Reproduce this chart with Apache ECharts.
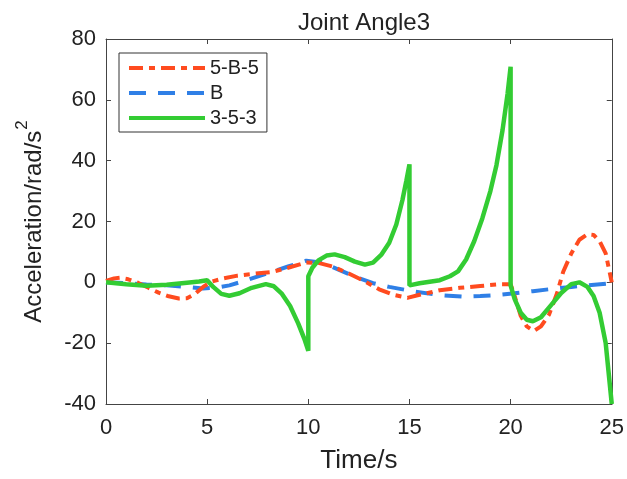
<!DOCTYPE html>
<html>
<head>
<meta charset="UTF-8">
<title>Joint Angle3</title>
<script src="https://cdn.jsdelivr.net/npm/echarts@6/dist/echarts.min.js"></script>
<style>
  html, body { margin: 0; padding: 0; background: #fff; }
  #chart { width: 627px; height: 479px; }
</style>
</head>
<body>
<div id="chart"></div>
<script type="text/javascript">
// [time, acceleration]
var curve585 = [[0,0.5],[0.4,1.3],[0.7,1.5],[1.1,1.0],[1.6,-0.2],[2.1,-1.8],[2.6,-3.4],[3.1,-4.6],[3.6,-5.3],[4.0,-5.2],[4.4,-3.8],[4.8,-1.5],[5.2,0.2],[5.8,1.3],[6.5,2.2],[7.3,2.8],[8.2,3.4],[9,4.8],[9.9,6.5],[10.5,6.4],[11.2,5.2],[12.0,2.9],[12.8,0.3],[13.5,-2.3],[14.2,-4.1],[14.9,-5.1],[15.5,-4.1],[16.5,-2.6],[17.5,-1.8],[18.5,-1.2],[19.5,-0.6],[20,-0.6],[20.2,-4.5],[20.5,-11],[20.8,-14.5],[21.15,-16],[21.5,-14.5],[21.9,-10.6],[22.3,-3.5],[22.6,3.5],[23.0,9.5],[23.4,14],[23.8,15.8],[24.1,15.6],[24.4,13.5],[24.7,9.5],[25,0]];
var curveB = [[0,0],[1,-0.3],[2,-0.7],[3,-1.0],[4,-1.5],[4.8,-2.0],[5.5,-1.7],[6.1,-1.0],[7,0.8],[7.9,2.8],[9,5.2],[9.9,7.1],[10.6,6.5],[11.2,5.0],[12.3,1.9],[13.2,-0.3],[14,-1.5],[15.3,-3.1],[16.5,-4.2],[17.6,-4.7],[18.5,-4.5],[19.3,-4.2],[20.2,-3.6],[21.1,-2.9],[22,-2.2],[23,-1.5],[24,-0.9],[25,-0.3]];
var curve353 = [[0,0],[1,-0.6],[2,-1.1],[3,-0.8],[4,-0.1],[4.6,0.3],[5,0.7],[5.3,-1.5],[5.7,-3.8],[6.1,-4.4],[6.6,-3.6],[7.2,-1.8],[7.9,-0.6],[8.3,-1.3],[8.7,-3.8],[9.1,-7.8],[9.5,-13.5],[9.8,-18.5],[10,-22.5],[10,2],[10.2,4.8],[10.5,7.2],[10.9,8.8],[11.3,9.2],[11.8,8.3],[12.3,6.8],[12.8,5.8],[13.2,6.5],[13.6,9],[14,13],[14.35,19],[14.65,27],[14.85,33.5],[15,38.8],[15,-1],[15.5,-0.3],[16,0.2],[16.5,0.7],[17,2],[17.4,3.6],[17.8,7.5],[18.2,13.5],[18.6,21],[19,30],[19.3,38.5],[19.6,50],[19.85,62],[20,70.9],[20,-1],[20.2,-5.5],[20.5,-10],[20.8,-12.3],[21.1,-12.8],[21.5,-11.5],[22,-7.5],[22.5,-3.5],[23,-0.6],[23.4,0],[23.8,-1.5],[24.1,-4.5],[24.4,-10],[24.7,-20],[25,-40]];

var seriesNames = ['5-B-5', 'B', '3-5-3'];
var xTicks = [0, 25, 5];   // min, max, step
var yTicks = [-40, 80, 20];

var FONT = 'Liberation Sans, Arial, sans-serif';
var AX = '#444';

function frameAxis(extra) {
  var a = {
    axisLine: { show: true, onZero: false, lineStyle: { color: AX, width: 1 } },
    axisTick: { show: true, inside: true, length: 5, lineStyle: { color: AX } },
    splitLine: { show: false }
  };
  for (var k in extra) a[k] = extra[k];
  return a;
}

var myChart = echarts.init(document.getElementById('chart'));
var option = {
  animation: false,
  backgroundColor: '#fff',
  textStyle: { fontFamily: FONT },
  title: {
    text: 'Joint Angle3',
    left: 359,
    top: 6,
    textAlign: 'center',
    textStyle: { fontFamily: FONT, fontSize: 24, fontWeight: 'normal', color: '#222' }
  },
  grid: { left: 106, right: 14, top: 39, bottom: 68, containLabel: false },
  legend: {
    data: seriesNames,
    orient: 'vertical',
    left: 119,
    top: 53,
    padding: [5, 8, 4, 8],
    itemGap: 5,
    itemWidth: 76,
    itemHeight: 14,
    backgroundColor: '#fff',
    borderColor: '#333',
    borderWidth: 1,
    borderRadius: 0,
    lineStyle: { width: 4 },
    itemStyle: { color: 'rgba(0,0,0,0)', borderColor: 'rgba(0,0,0,0)', opacity: 0 },
    textStyle: { fontFamily: FONT, fontSize: 20, color: '#222' }
  },
  xAxis: [
    frameAxis({
      type: 'value', min: xTicks[0], max: xTicks[1], interval: xTicks[2],
      name: 'Time/s', nameLocation: 'middle', nameGap: 44,
      nameTextStyle: { fontFamily: FONT, fontSize: 26, color: '#222' },
      axisLabel: { fontFamily: FONT, fontSize: 22, color: '#222', margin: 13 }
    }),
    frameAxis({
      type: 'value', position: 'top', min: xTicks[0], max: xTicks[1], interval: xTicks[2],
      axisLabel: { show: false }
    })
  ],
  yAxis: [
    frameAxis({
      type: 'value', min: yTicks[0], max: yTicks[1], interval: yTicks[2],
      name: '{a|Acceleration/rad/s}{s|2}', nameLocation: 'middle', nameGap: 60,
      nameTextStyle: {
        fontFamily: FONT, fontSize: 24, color: '#222',
        rich: {
          a: { fontFamily: FONT, fontSize: 24, color: '#222', lineHeight: 32, verticalAlign: 'bottom' },
          s: { fontFamily: FONT, fontSize: 17, color: '#222', lineHeight: 32, verticalAlign: 'top', padding: [0, 0, 10, 1] }
        }
      },
      axisLabel: { fontFamily: FONT, fontSize: 22, color: '#222', margin: 10 }
    }),
    frameAxis({
      type: 'value', position: 'right', min: yTicks[0], max: yTicks[1], interval: yTicks[2],
      axisLabel: { show: false }
    })
  ],
  series: [
    {
      name: seriesNames[0], type: 'line', data: curve585, showSymbol: false, symbol: 'none',
      lineStyle: { color: '#ff4b1f', width: 4, type: [14, 6, 6, 6] },
      itemStyle: { color: '#ff4b1f' }, z: 3
    },
    {
      name: seriesNames[1], type: 'line', data: curveB, showSymbol: false, symbol: 'none',
      lineStyle: { color: '#2f7fe6', width: 4, type: [17, 12] },
      itemStyle: { color: '#2f7fe6' }, z: 2
    },
    {
      name: seriesNames[2], type: 'line', data: curve353, showSymbol: false, symbol: 'none',
      lineStyle: { color: '#33cc33', width: 4.5 },
      itemStyle: { color: '#33cc33' }, z: 4
    }
  ]
};
myChart.setOption(option);
</script>
</body>
</html>
